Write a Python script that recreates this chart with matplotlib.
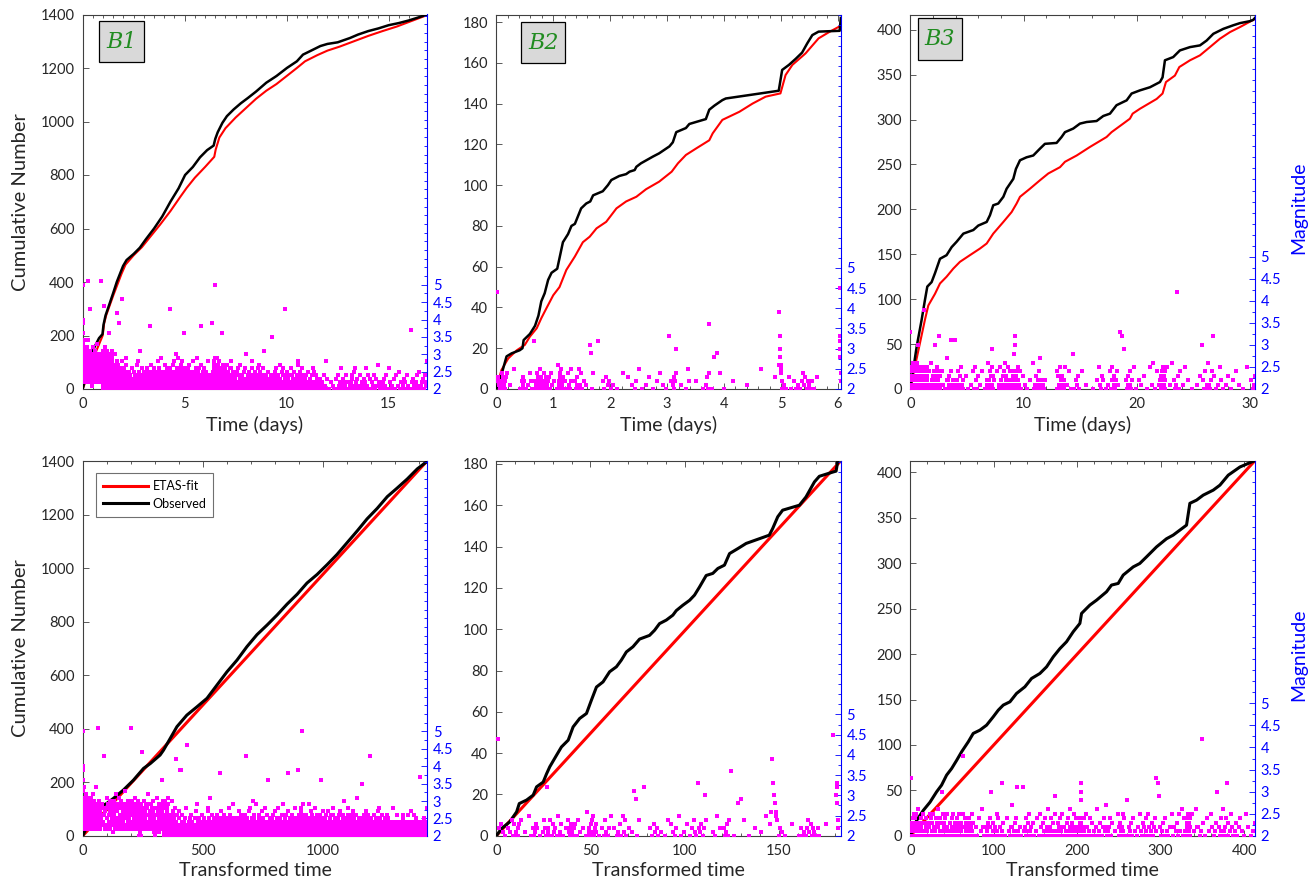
import numpy as np
import matplotlib
matplotlib.use("Agg")
import matplotlib.pyplot as plt
from matplotlib.ticker import MultipleLocator, FixedLocator, FixedFormatter
from matplotlib.patches import Rectangle

plt.rcParams['font.family'] = ['Lato', 'DejaVu Sans']

# ---------------------------------------------------------------- B1
B1_OBS_T = [0, 0.05, 0.15, 0.28, 0.4, 0.6, 0.8, 0.97, 1.02, 1.12, 1.3, 1.5, 1.67,
            1.85, 1.98, 2.15, 2.5, 2.8, 3.1, 3.5, 3.9, 4.3, 4.7, 5.02, 5.4, 5.75,
            6.1, 6.42, 6.5, 6.62, 6.85, 7.07, 7.4, 7.75, 8.1, 8.5, 9.0, 9.5, 10.01,
            10.5, 10.8, 11.2, 11.65, 12.0, 12.5, 13.1, 13.5, 14.0, 14.5, 15.0,
            15.5, 16.0, 16.5, 16.89]
B1_OBS_N = [0, 15, 55, 100, 125, 160, 190, 205, 240, 275, 315, 360, 400,
            435, 460, 482, 505, 528, 560, 600, 645, 700, 750, 800, 830, 866,
            893, 910, 935, 960, 995, 1020, 1045, 1068, 1088, 1112, 1145, 1170, 1200,
            1225, 1250, 1265, 1282, 1290, 1296, 1312, 1325, 1338, 1348, 1360,
            1368, 1378, 1390, 1400]
B1_FIT_T = [0, 0.1, 0.3, 0.6, 0.98, 1.05, 1.15, 1.5, 1.9, 2.1, 2.5, 2.9, 3.3, 3.8,
            4.3, 4.8, 5.1, 5.5, 6.0, 6.45, 6.52, 6.7, 7.0, 7.5, 8.0, 8.5, 9.0, 9.5,
            10.0, 10.5, 10.9, 11.5, 12.0, 12.6, 13.3, 14.0, 14.7, 15.4, 16.2, 16.89]
B1_FIT_N = [0, 20, 70, 130, 200, 245, 275, 350, 430, 465, 500, 530, 568, 615,
            665, 720, 752, 790, 830, 868, 895, 940, 975, 1015, 1050, 1085, 1115, 1140,
            1170, 1200, 1225, 1248, 1265, 1280, 1300, 1320, 1338, 1355, 1378, 1398]
B1_TAU = [0, 23.6, 44, 72, 100, 128, 169, 211, 253, 281, 322, 336, 364, 392, 433,
          475, 517, 558, 600, 642, 683, 725, 767, 808, 850, 892, 933, 975, 1017,
          1058, 1100, 1142, 1183, 1225, 1267, 1308, 1350, 1392, 1433]
B1_TAU_N = [0, 46, 77, 108, 121, 140, 171, 208, 252, 270, 302, 320, 364, 408, 451,
            482, 514, 563, 613, 657, 707, 752, 788, 825, 866, 903, 945, 977, 1014,
            1052, 1096, 1140, 1185, 1224, 1268, 1300, 1334, 1372, 1400]
# magnitude of each event in time order: base-36 digit = tenths above M2.0
B1_MAG = [
    "kjug8d6a75 4e6389b572 6a4839275c 3786492a58 7364b85296",
    "5837a46928 4b6375829a 6384c72593 7a4826359e 372869458v",
    "6483a92756 3948n62738 b5829364a7 2836495718 4a6392c857",
    "3728493b65 8264a39572 4839265d87 3695284a73 958362487v",
    "6a48372956 3849b62735 8274395a64 2058314620 7395o46283",
    "4a83725694 2836c49573 6492835a72 3150264138 8b47362951",
    "738495628g 4637289a53 2041936201 5a38462839 3627485b92",
    "0120314025 1036012401 2015a30127 0310240516 102031840m",
    "1020413062 012037150j 201j302140 0612031042 103520180q",
    "2010314025 1030621401 0213051207 9102403150 1204013602",
    "0130251042 3010240718 1203150204 b012031406 2013042105",
    "1024013052 0130261402 301204150i 2031071024 0125031406",
    "2013041025 0310250148 1023061402 3015204109 0214031025",
    "1032014052 0120371405 2013062140 3102540120 140216030n",
    "0213051024 1302401738 2014032510 4a01302615 0120431092",
    "1042013065 0130241207 2103501428 014203160g 3012041520",
    "0130251046 2014037102 1305204180 0241031520 2016403129",
    "1024031506 201304172i 0412051302 3061024105 1203081402",
    "2041j30526 1302614078 3015u92640 0213051402 6103241059",
    "2051302746 1032051408 0214306152 301402561g 0213041075",
    "1024035106 2013041702 0315201406 1302806142 0215031024",
    "3012051406 0120374102 1403025160 2a01304125 0130241068",
    "1203014502 0314021607 2013051402 3102064b01 0241302051",
    "201304120f 1302405163 0214031027 3102501406 2013n41052",
    "0132041026 1024031502 3010240718 0213051402 1302406103",
    "2013041052 0130240615 1024301002 3012041803 0210340126",
    "1032014002 0120341056 2013004102 1302601403 0214031720",
    "1020314006 2013041502 013204100h 2031024015 0120304218",
]

# ---------------------------------------------------------------- B2
B2_OBS_T = [0, 0.1, 0.18, 0.27, 0.41, 0.46, 0.48, 0.59, 0.68, 0.74, 0.79, 0.85,
            0.91, 0.97, 1.07, 1.17, 1.26, 1.32, 1.38, 1.49, 1.58, 1.65, 1.70,
            1.87, 1.96, 2.02, 2.16, 2.28, 2.34, 2.43, 2.46, 2.54, 2.75, 2.86,
            3.04, 3.10, 3.16, 3.33, 3.39, 3.51, 3.68, 3.74, 3.83, 3.97, 4.03,
            4.96, 5.02, 5.14, 5.26, 5.37, 5.46, 5.55, 5.66, 6.03, 6.05]
B2_OBS_N = [0, 8, 16, 17.5, 19, 20, 24, 27, 31, 36, 43, 47,
            53.5, 57, 59, 72, 76, 80, 81, 88.6, 91, 92, 95,
            97, 100, 102.5, 104.5, 105.4, 106.6, 107.4, 109, 110.7, 114, 115.6,
            119, 121, 126, 128, 130, 131, 132.4, 137, 139, 141.7, 142.5,
            146.3, 156.5, 159, 162, 165, 169.5, 173.6, 175.3, 175.7, 182]
B2_FIT_T = [0, 0.09, 0.21, 0.36, 0.5, 0.59, 0.71, 0.79, 0.88, 1.0, 1.11, 1.23,
            1.38, 1.52, 1.64, 1.76, 1.93, 2.11, 2.28, 2.46, 2.63, 2.86, 3.08,
            3.19, 3.33, 3.51, 3.74, 3.80, 3.97, 4.27, 4.5, 4.73, 4.99, 5.08,
            5.2, 5.43, 5.66, 5.84, 6.05]
B2_FIT_N = [0, 9.3, 15, 19, 21.6, 25.7, 29.8, 34.7, 39.6, 46, 50, 58.4,
            65, 72, 74.7, 78.8, 82, 88.6, 92, 94.3, 98, 101.7, 106.6,
            110.7, 114.8, 118, 122, 125.4, 132, 136, 140, 143.4, 145, 154,
            159, 164.6, 172, 175, 178.2]
B2_TAU = [0, 2.8, 7.2, 10.8, 12.2, 16.1, 19.6, 21.4, 24.9, 26.7, 28.4, 32, 34.6,
          38.2, 40.8, 44.3, 47.9, 50.5, 53.2, 56.7, 60.2, 63.8, 66.4, 69.1, 72.6,
          76.1, 81.4, 84.1, 86.7, 90.3, 93.8, 95.6, 99.1, 102.7, 105.3, 108,
          111.5, 115, 117.7, 121.2, 123.9, 128.3, 132.7, 145, 146.8, 149.5,
          152.1, 161, 164.5, 169, 171.6, 178.6, 180.5, 181.5]
B2_TAU_N = [0, 3.5, 6.8, 11.6, 15.6, 17.3, 19.7, 23.7, 26, 30, 33.4, 39, 43,
            46.3, 52.7, 56.8, 59.2, 65.6, 72, 74.5, 79.4, 81.8, 85, 89, 91.5,
            95.2, 97, 99.5, 102.7, 104.4, 106.8, 109, 111.6, 114, 116.5, 120.5,
            126, 127, 129.4, 131, 136.6, 139, 141.5, 145.5, 148.7, 154.4,
            157.6, 160, 164, 171.3, 174, 176, 176.5, 182]
B2_MAG = [
    "o231021403 1020341502 013201420c 2104031205 0130241023",
    "1023041206 0120341502 1302041025 2013051402 1b904c2031",
    "2010431025 01302410d2 1302a41052 201304g089 4021536jda",
    "8654021030 2010241302 10203padc8 42",
]

# ---------------------------------------------------------------- B3
B3_OBS_T = [0, 0.56, 1.0, 1.29, 1.5, 1.88, 2.18, 2.62, 3.2, 3.65, 4.09, 4.68,
            5.12, 5.56, 6.0, 6.74, 7.03, 7.32, 7.76, 8.21, 8.5, 9.09, 9.32, 9.68,
            10.26, 10.85, 11.44, 11.88, 12.91, 13.35, 13.65, 14.38, 14.97, 15.56,
            16.44, 17.03, 17.62, 18.2, 18.79, 19.09, 19.53, 20.26, 21.15, 22.03,
            22.26, 22.47, 23.2, 23.79, 24.68, 25.56, 26.15, 26.74, 27.62, 28.5,
            29.09, 29.97, 30.26, 30.4]
B3_OBS_N = [0, 47, 77, 99, 114, 119, 129, 145, 149, 158, 164, 173,
            175, 177, 182, 186, 193.5, 204.6, 206.5, 214, 223, 234, 245, 254.7,
            258, 260, 267.6, 273, 274, 280.6, 286, 290, 295.5, 297.3,
            298.4, 304, 306.6, 316, 319.6, 321.4, 329, 332.5, 336, 341.8,
            347, 366, 369.6, 377, 380.7, 382.6, 388, 395.5, 401, 405,
            407.4, 409.6, 411, 413]
B3_FIT_T = [0, 0.41, 0.85, 1.29, 1.59, 2.18, 2.62, 3.2, 3.79, 4.38, 5.26, 6.15,
            6.74, 7.32, 8.21, 8.94, 9.38, 9.68, 10.56, 11.44, 12.18, 13.21, 13.65,
            14.68, 15.85, 17.32, 17.76, 18.79, 19.38, 19.62, 20.26, 21.74, 22.26,
            22.56, 23.35, 23.74, 24.68, 25.56, 26.44, 27.32, 28.21, 29.09, 30.41]
B3_FIT_N = [0, 25, 51, 77, 93, 106, 117.5, 125, 134, 141.6, 149, 156.4,
            162, 173, 186, 197, 206.5, 214, 223, 232.4, 240, 247, 253,
            260, 269.5, 280.6, 286, 295.5, 301, 306.6, 312, 323, 329,
            341.8, 349, 358.5, 366, 371.5, 380.7, 390, 397.4, 403, 412]
B3_TAU = [0, 3.6, 7.6, 15.6, 23.6, 31.5, 37.5, 43.5, 49.5, 55.5, 61.5, 69.5, 75.4,
          83.4, 91.4, 99.4, 105.4, 111.4, 119.4, 127.3, 137.3, 145.3, 155.3, 163.3,
          171.3, 179.2, 187.2, 195.2, 203.2, 205.2, 215.2, 223.2, 235.1, 241.1,
          249.1, 255.1, 267.1, 275, 283, 295, 307, 315, 323, 331, 335, 343, 351,
          363, 371, 381, 395, 412.8]
B3_TAU_N = [0, 8, 17, 28, 37, 48.4, 55.8, 66.8, 74, 83, 92.5, 103.5, 112.7,
            116.3, 121.8, 131, 138.3, 143.9, 147.5, 156.7, 164, 173.2, 178.7, 186,
            197, 206, 213.6, 224.6, 233.8, 244.8, 254, 259.4, 268.6, 276,
            277.8, 287, 296, 299.8, 307, 318, 327, 331, 336.5, 342, 366, 369.5, 375,
            380.5, 386, 397, 406, 413]
B3_MAG = [
    "d302143052 1402530216 0314205130 2413025041 3052104236",
    "20413a0152 0314202510 1302415023 2041031502 1305i20413",
    "0214301025 1302041620 2013042a01 3012051402 01c3041027",
    "201304b102 0b12041305 1023014052 0314021602 1204031095",
    "0130241052 2013040162 1302051402 012304180c a013024105",
    "2014031026 0130241702 1024031502 3012051408 0213041025",
    "1032014052 0130241dc9 2013041025 0213051604 1203041025",
    "0214031025 1302405162 201m304152 013a204106 1024c30152",
    "0130241052 013",
]

PANEL_NAMES = ["B1", "B2", "B3"]
MAG_TICKS = [2, 2.5, 3, 3.5, 4, 4.5, 5]
MAG_TICK_LABELS = ["2", "2.5", "3", "3.5", "4", "4.5", "5"]
LEGEND_LABELS = ["ETAS-fit", "Observed"]

# ---------------------------------------------------------------- styling
RED = (1.0, 0.0, 0.0)
BLACK = (0.0, 0.0, 0.0)
MAGENTA = (1.0, 0.0, 1.0)
BLUE = (0.0, 0.0, 1.0)
GREEN = (0.13, 0.55, 0.13)
AX_GRAY = "#404040"
TXT = "#262626"

W, H = 1316, 884
COL_LEFT = [82.7, 496.3, 910.3]
COL_W = 344.5
ROW_TOP = [14.5, 460.8]
ROW_H = [374.5, 375.0]

LIMITS = [
    dict(tx=16.89, ty=1400, txm=5, txn=0.5, tym=200,
         bx=1433, by=1402, bxm=500, bxn=100, mtop=12.78),
    dict(tx=6.05, ty=183.7, txm=1, txn=0.2, tym=20,
         bx=183, by=181.5, bxm=50, bxn=10, mtop=11.27),
    dict(tx=30.4, ty=417, txm=10, txn=2, tym=50,
         bx=412.8, by=412.8, bxm=100, bxn=20, mtop=10.49),
]
LABEL_BOX = [(0.048, 0.873, 0.129, 0.109),
             (0.072, 0.871, 0.128, 0.108),
             (0.021, 0.879, 0.129, 0.112)]

fig = plt.figure(figsize=(W / 100, H / 100), dpi=100)


def axes_px(left, top, width, height):
    return fig.add_axes([left / W, 1 - (top + height) / H, width / W, height / H])


def decode(lines):
    s = "".join(lines).replace(" ", "")
    return 2.0 + 0.1 * np.array([int(c, 36) for c in s])


def style_main(ax, xmax, ymax, xmaj, xmin, ymaj):
    ax.set_xlim(0, xmax)
    ax.set_ylim(0, ymax)
    ax.xaxis.set_major_locator(MultipleLocator(xmaj))
    ax.xaxis.set_minor_locator(MultipleLocator(xmin))
    ax.yaxis.set_major_locator(MultipleLocator(ymaj))
    ax.tick_params(axis='x', which='both', direction='in', top=True, bottom=True,
                   color=AX_GRAY, labelcolor=TXT, labelsize=10.5, pad=6)
    ax.tick_params(axis='y', which='both', direction='in', left=True, right=False,
                   color=AX_GRAY, labelcolor=TXT, labelsize=10.5, pad=6)
    ax.tick_params(which='major', length=4, width=0.6)
    ax.tick_params(which='minor', length=2.2, width=0.6)
    for s in ('left', 'top', 'bottom'):
        ax.spines[s].set_color(AX_GRAY)
        ax.spines[s].set_linewidth(0.8)
    ax.spines['right'].set_visible(False)


def style_mag(ax2, mtop):
    ax2.set_ylim(2, mtop)
    ax2.yaxis.set_major_locator(FixedLocator(MAG_TICKS))
    ax2.yaxis.set_major_formatter(FixedFormatter(MAG_TICK_LABELS))
    ax2.yaxis.set_minor_locator(MultipleLocator(0.25))
    ax2.tick_params(axis='y', which='both', direction='in', colors=BLUE,
                    labelsize=10.5, pad=4)
    ax2.tick_params(axis='y', which='major', length=4, width=0.6)
    ax2.tick_params(axis='y', which='minor', length=2.2, width=0.6)
    for s in ('left', 'top', 'bottom'):
        ax2.spines[s].set_visible(False)
    ax2.spines['right'].set_color(BLUE)
    ax2.spines['right'].set_linewidth(0.8)


panels = [
    (B1_OBS_T, B1_OBS_N, B1_FIT_T, B1_FIT_N, B1_TAU, B1_TAU_N, B1_MAG),
    (B2_OBS_T, B2_OBS_N, B2_FIT_T, B2_FIT_N, B2_TAU, B2_TAU_N, B2_MAG),
    (B3_OBS_T, B3_OBS_N, B3_FIT_T, B3_FIT_N, B3_TAU, B3_TAU_N, B3_MAG),
]

MS = 2.3

for j, (ot, on, ft, fn, tau, taun, magcode) in enumerate(panels):
    lim = LIMITS[j]
    mags = decode(magcode)
    idx = np.arange(1, len(mags) + 1)
    # event times: where the observed cumulative count reaches each event
    t_ev = np.interp(idx, on, ot)
    tau_ev = np.interp(idx, taun, tau)

    # ---- top: cumulative number vs time
    ax = axes_px(COL_LEFT[j], ROW_TOP[0], COL_W, ROW_H[0])
    ax.plot(ft, fn, color=RED, lw=1.5, zorder=2)
    ax.plot(ot, on, color=BLACK, lw=1.8, zorder=3)
    style_main(ax, lim['tx'], lim['ty'], lim['txm'], lim['txn'], lim['tym'])
    ax.set_xlabel("Time (days)", fontsize=14, color=TXT, labelpad=3)
    if j == 0:
        ax.set_ylabel("Cumulative Number", fontsize=14.5, color=TXT, labelpad=8)
    bx0, by0, bw, bh = LABEL_BOX[j]
    ax.add_patch(Rectangle((bx0, by0), bw, bh, transform=ax.transAxes,
                           facecolor="#d9d9d9", edgecolor="black", lw=0.9, zorder=5))
    ax.text(bx0 + bw / 2, by0 + bh / 2, PANEL_NAMES[j], transform=ax.transAxes,
            ha='center', va='center', fontsize=16, style='italic',
            family='DejaVu Serif', color=GREEN, zorder=6)
    ax2 = ax.twinx()
    ax2.plot(t_ev, mags, 's', ms=MS, mew=0, color=MAGENTA)
    style_mag(ax2, lim['mtop'])
    if j == 2:
        ax2.set_ylabel("Magnitude", color=BLUE, fontsize=14)
        ax2.yaxis.set_label_coords(1.103, 0.483)

    # ---- bottom: cumulative number vs transformed time
    axb = axes_px(COL_LEFT[j], ROW_TOP[1], COL_W, ROW_H[1])
    l_fit, = axb.plot([0, lim['bx']], [0, lim['by']], color=RED, lw=2.2, zorder=2)
    l_obs, = axb.plot(tau, taun, color=BLACK, lw=2.2, zorder=3)
    style_main(axb, lim['bx'], lim['by'], lim['bxm'], lim['bxn'], lim['tym'])
    axb.set_xlabel("Transformed time", fontsize=14, color=TXT, labelpad=3)
    if j == 0:
        axb.set_ylabel("Cumulative Number", fontsize=14.5, color=TXT, labelpad=8)
        leg = axb.legend([l_fit, l_obs], LEGEND_LABELS, loc='upper left',
                         bbox_to_anchor=(0.039, 0.967), borderaxespad=0,
                         fontsize=9, handlelength=3.6, handletextpad=0.35,
                         borderpad=0.55, labelspacing=0.45, fancybox=False,
                         edgecolor='#707070', framealpha=1)
        leg.get_frame().set_linewidth(0.8)
        leg.set_zorder(10)
    axb2 = axb.twinx()
    axb2.plot(tau_ev, mags, 's', ms=MS, mew=0, color=MAGENTA)
    style_mag(axb2, lim['mtop'])
    if j == 2:
        axb2.set_ylabel("Magnitude", color=BLUE, fontsize=14)
        axb2.yaxis.set_label_coords(1.103, 0.483)

fig.savefig("out.png", dpi=100)
